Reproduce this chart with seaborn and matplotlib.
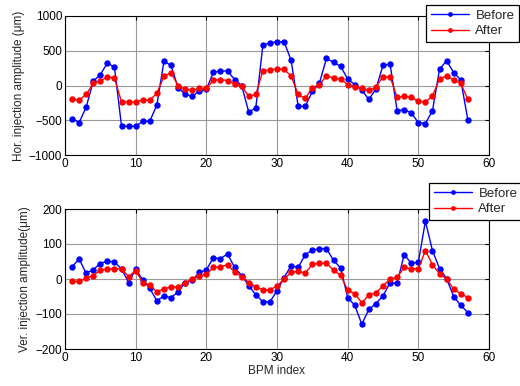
import numpy as np
import pandas as pd
import seaborn as sns
import matplotlib
matplotlib.use('Agg')
import matplotlib.pyplot as plt

bpm = list(range(1, 58))

hor_before = [-476, -533, -310, 62, 157, 324, 262, -586, -586, -586,
              -514, -514, -281, 347, 290, -33, -124, -157, -81, -57,
              190, 209, 209, 86, 0, -381, -324, 581, 614, 628,
              630, 362, -300, -300, -86, 33, 390, 333, 276, 95,
              14, -67, -200, -48, 290, 309, -362, -348, -395, -533,
              -547, -362, 233, 357, 186, 81, -490]
hor_after = [-195, -209, -129, 29, 67, 124, 109, -238, -238, -238,
             -209, -209, -114, 133, 181, 0, -57, -71, -43, -43,
             76, 86, 71, 24, -5, -157, -129, 209, 224, 238,
             233, 136, -129, -186, -33, 14, 138, 109, 90, 14,
             -24, -38, -71, -19, 124, 124, -171, -157, -171, -224,
             -238, -152, 95, 138, 81, 33, -200]

ver_before = [35, 57, 16, 27, 44, 52, 48, 29, -10, 28,
              -2, -27, -62, -49, -53, -37, -10, -4, 19, 26,
              61, 58, 72, 33, 10, -19, -45, -65, -65, -34,
              4, 38, 33, 70, 82, 87, 87, 53, 32, -53,
              -75, -129, -87, -70, -48, -11, -12, 70, 45, 48,
              165, 81, 30, 1, -50, -75, -96]
ver_after = [-7, -7, 2, 10, 25, 28, 30, 28, 7, 24,
             -10, -17, -37, -28, -23, -23, -10, -1, 9, 13,
             33, 35, 41, 19, 7, -10, -22, -31, -31, -20,
             0, 19, 22, 17, 42, 45, 45, 25, 11, -32,
             -42, -68, -46, -39, -20, 0, 5, 33, 29, 30,
             81, 41, 15, 0, -29, -42, -53]

sns.set_theme(style='white')
plt.rcParams['font.family'] = ['Liberation Sans', 'DejaVu Sans']
plt.rcParams['font.size'] = 8.5

fig = plt.figure(figsize=(5.2, 3.86), dpi=100)
ax1 = fig.add_axes([65/520, 1-155/386, 424/520, 139/386])
ax2 = fig.add_axes([65/520, 1-349/386, 424/520, 140/386])


def draw(ax, before, after, ylim, yticks, ylabel, leg_box):
    sns.lineplot(x=bpm, y=before, ax=ax, color='blue', marker='o', markersize=4.6,
                 markeredgewidth=0, linewidth=1.0, label='Before')
    sns.lineplot(x=bpm, y=after, ax=ax, color='red', marker='o', markersize=4.6,
                 markeredgewidth=0, linewidth=1.0, label='After')
    ax.set_xlim(0, 60)
    ax.set_ylim(*ylim)
    ax.set_xticks(range(0, 61, 10))
    ax.set_yticks(yticks)
    ax.grid(True, linestyle='-', color='#999999', linewidth=0.8)
    ax.set_axisbelow(True)
    ax.tick_params(direction='in', top=True, right=True, length=3, width=0.8,
                   labelsize=8.5, colors='black', pad=2)
    for s in ax.spines.values():
        s.set_color('black')
        s.set_linewidth(0.8)
    ax.set_ylabel(ylabel, fontsize=8.5, labelpad=3)
    leg = ax.legend(loc='upper right', bbox_to_anchor=leg_box,
                    bbox_transform=fig.transFigure, fancybox=False,
                    framealpha=1, edgecolor='black', fontsize=9.5,
                    borderpad=0.35, handlelength=2.9, labelspacing=0.25,
                    handletextpad=0.5, borderaxespad=0, markerscale=0.75)
    leg.get_frame().set_linewidth(0.9)


draw(ax1, hor_before, hor_after, (-1000, 1000), range(-1000, 1001, 500),
     'Hor. injection amplitude (\u03bcm)', (519/520, 1-5/386))
draw(ax2, ver_before, ver_after, (-200, 200), range(-200, 201, 100),
     'Ver. injection amplitude(\u03bcm)', (522/520, 1-183/386))
ax2.set_xlabel('BPM index', fontsize=8.5, labelpad=1)

fig.savefig('out.png', dpi=100)
